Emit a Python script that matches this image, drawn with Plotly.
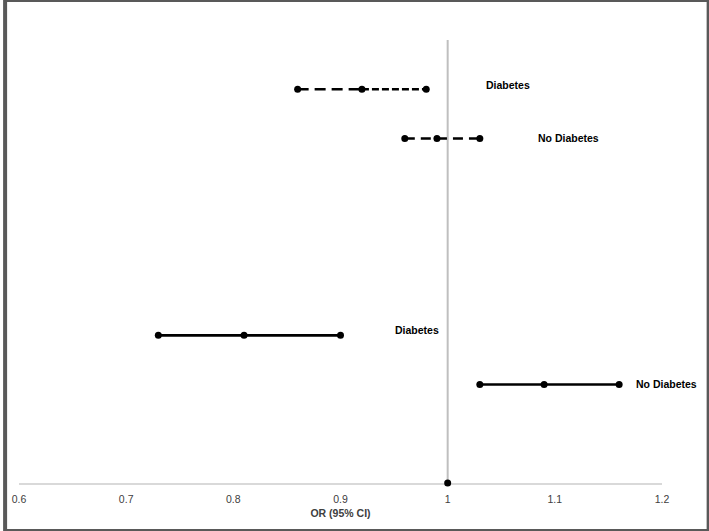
import plotly.graph_objects as go

# Data
rows_y = [8, 7, 3, 2]
lower = [0.86, 0.96, 0.73, 1.03]
estimate = [0.92, 0.99, 0.81, 1.09]
upper = [0.98, 1.03, 0.90, 1.16]
labels = ["Diabetes", "No Diabetes", "Diabetes", "No Diabetes"]
ref_x = [1, 1]
ref_y = [0, 9]
x_ticks = [0.6, 0.7, 0.8, 0.9, 1.0, 1.1, 1.2]
x_ticklabels = ["0.6", "0.7", "0.8", "0.9", "1", "1.1", "1.2"]

# label placement relative to the upper CI point (pixels)
label_dx = [82, 89, 76, 47]
label_dy = [4, 0, 5, 1]

# segment dash styles: (lower->estimate, estimate->upper)
seg_dash = [("11px,6px", "7px,3px"), ("10px,6px", "10px,6px"), ("solid", "solid"), ("solid", "solid")]

FONT = "Liberation Sans Narrow, Arial Narrow, Liberation Sans, Arial, sans-serif"

fig = go.Figure()

# reference line at OR = 1
fig.add_trace(go.Scatter(x=ref_x, y=ref_y, mode="lines",
                         line=dict(color="#bfbfbf", width=2), hoverinfo="skip",
                         showlegend=False))
fig.add_trace(go.Scatter(x=[ref_x[0]], y=[ref_y[0]], mode="markers",
                         marker=dict(color="black", size=7), cliponaxis=False,
                         showlegend=False))

for i in range(len(rows_y)):
    y = rows_y[i]
    d1, d2 = seg_dash[i]
    fig.add_trace(go.Scatter(x=[lower[i], estimate[i]], y=[y, y], mode="lines",
                             line=dict(color="black", width=2.6, dash=d1),
                             showlegend=False))
    fig.add_trace(go.Scatter(x=[estimate[i], upper[i]], y=[y, y], mode="lines",
                             line=dict(color="black", width=2.6, dash=d2),
                             showlegend=False))
    fig.add_trace(go.Scatter(x=[lower[i], estimate[i], upper[i]], y=[y, y, y],
                             mode="markers", marker=dict(color="black", size=7),
                             cliponaxis=False, showlegend=False))
    fig.add_annotation(x=upper[i], y=y, xshift=label_dx[i], yshift=label_dy[i],
                       text="<b>%s</b>" % labels[i],
                       showarrow=False, xanchor="center", yanchor="middle",
                       font=dict(family=FONT, size=10.5, color="black"))

L, R, T, B = 14, 47, 40, 48
W, H = 709, 531
pw, ph = W - L - R, H - T - B
fig.add_shape(type="rect", xref="paper", yref="paper",
              x0=-L / pw, x1=1 + R / pw, y0=-B / ph, y1=1 + T / ph,
              line=dict(color="#595959", width=4), layer="above")

fig.update_layout(
    width=W, height=H,
    margin=dict(l=L, r=R, t=T, b=B),
    plot_bgcolor="white", paper_bgcolor="white",
    showlegend=False,
    xaxis=dict(range=[0.6, 1.2], tickvals=x_ticks, ticktext=x_ticklabels,
               showgrid=False, zeroline=False, showline=True,
               linecolor="#d9d9d9", linewidth=1.5, ticks="",
               layer="below traces", ticklabelstandoff=6,
               tickfont=dict(family=FONT, size=10.5, color="#404040"),
               title=dict(text="<b>OR (95% CI)</b>", standoff=5,
                          font=dict(family=FONT, size=10.5, color="#404040"))),
    yaxis=dict(range=[0, 9], visible=False, showgrid=False, zeroline=False),
)

fig.write_html("out.html", config={"displayModeBar": False},
               post_script="document.body.style.margin='0';document.body.style.overflow='hidden';")
